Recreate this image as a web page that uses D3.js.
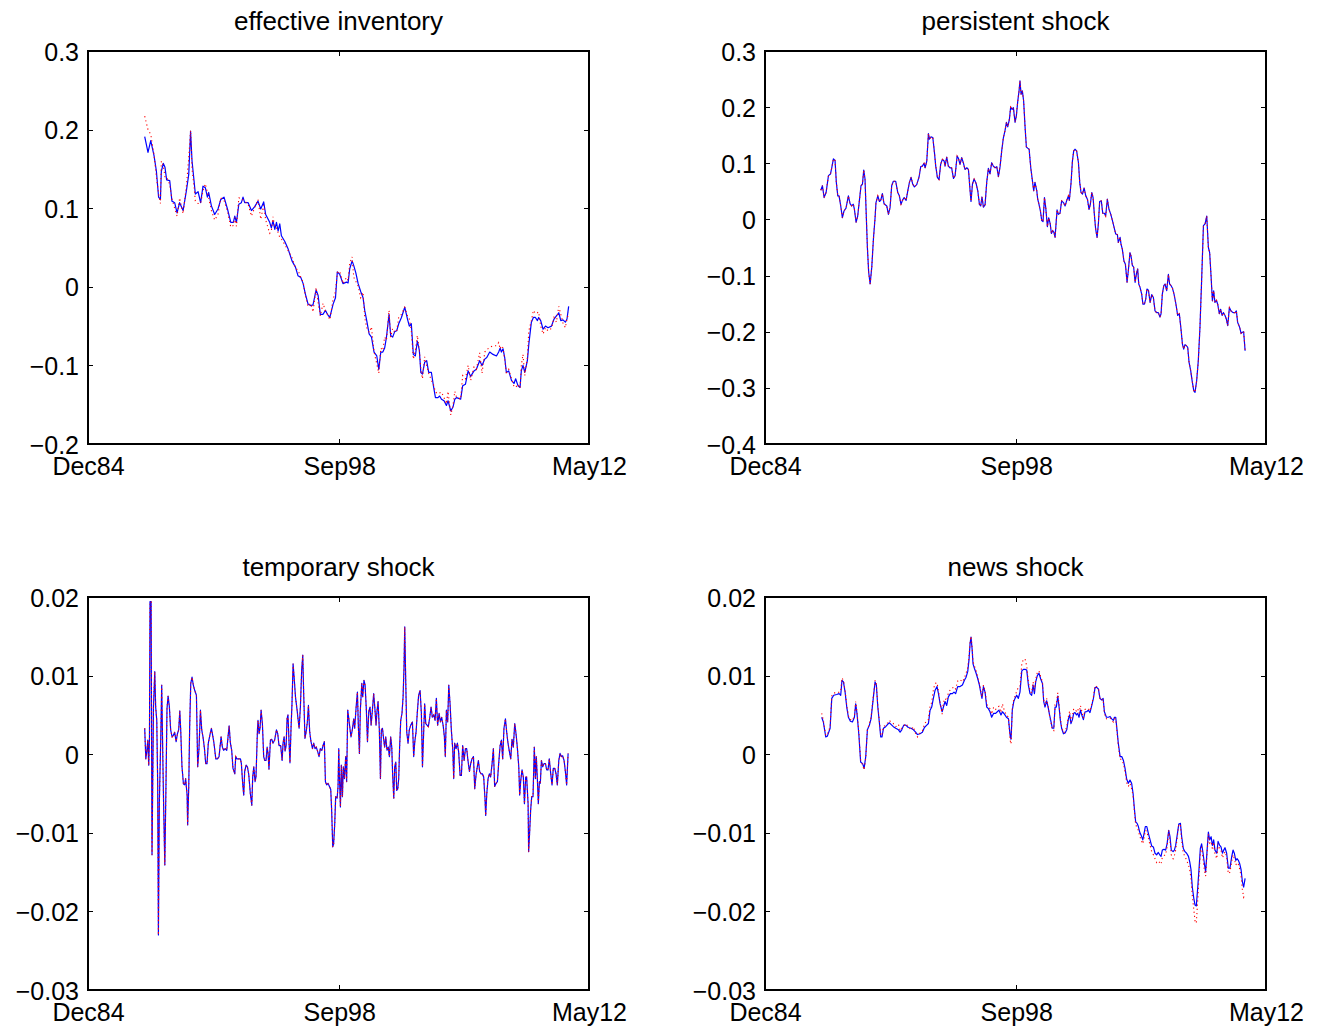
<!DOCTYPE html>
<html><head><meta charset="utf-8">
<script src="https://cdn.jsdelivr.net/npm/d3@7"></script>
<style>body{margin:0;background:#fff;} svg{display:block;}</style>
</head><body><svg id="c" width="1325" height="1034"></svg>
<script>
// ---------- shared x axis (decimal years) ----------
const xDomain = [1984.9167, 2012.3333];
const xTicks = [1984.9167, 1998.6667, 2012.3333];
const xTickLabels = ["Dec84", "Sep98", "May12"];

// ---------- effective inventory ----------
const effYDomain = [-0.2, 0.3];
const effYTicks = [-0.2, -0.1, 0, 0.1, 0.2, 0.3];
const effYLabels = ["\u22120.2", "\u22120.1", "0", "0.1", "0.2", "0.3"];
const effT = [
1988.02,1988.20,1988.35,1988.53,1988.66,1988.78,1988.88,1988.93,1989.04,1989.13,
1989.22,1989.39,1989.51,1989.66,1989.79,1989.93,1990.12,1990.30,1990.43,1990.53,
1990.61,1990.72,1990.79,1990.94,1991.08,1991.21,1991.34,1991.45,1991.52,1991.67,
1991.85,1992.03,1992.18,1992.36,1992.55,1992.73,1992.87,1992.95,1993.04,1993.17,
1993.31,1993.40,1993.49,1993.68,1993.86,1994.04,1994.22,1994.37,1994.53,1994.64,
1994.86,1994.95,1995.04,1995.14,1995.23,1995.32,1995.41,1995.50,1995.68,1995.87,
1996.08,1996.27,1996.41,1996.56,1996.69,1996.81,1996.96,1997.11,1997.23,1997.40,
1997.51,1997.63,1997.78,1997.91,1998.02,1998.15,1998.33,1998.46,1998.56,1998.69,
1998.87,1999.06,1999.15,1999.24,1999.37,1999.46,1999.57,1999.70,1999.84,1999.97,
2000.06,2000.17,2000.30,2000.43,2000.57,2000.72,2000.83,2000.94,2001.05,2001.15,
2001.25,2001.39,2001.48,2001.59,2001.70,2001.81,2001.92,2002.07,2002.25,2002.40,
2002.50,2002.61,2002.72,2002.83,2002.94,2003.05,2003.13,2003.22,2003.34,2003.45,
2003.56,2003.71,2003.82,2003.93,2004.07,2004.16,2004.26,2004.40,2004.53,2004.62,
2004.77,2004.89,2004.99,2005.08,2005.20,2005.31,2005.42,2005.57,2005.72,2005.86,
2006.04,2006.17,2006.35,2006.48,2006.63,2006.74,2006.90,2007.08,2007.27,2007.39,
2007.47,2007.54,2007.63,2007.72,2007.81,2007.94,2008.09,2008.23,2008.32,2008.45,
2008.56,2008.63,2008.72,2008.82,2008.96,2009.04,2009.18,2009.29,2009.40,2009.51,
2009.58,2009.69,2009.82,2009.95,2010.09,2010.28,2010.42,2010.55,2010.68,2010.79,
2010.91,2011.04,2011.13,2011.22];
const effBlue = [
0.191,0.171,0.186,0.167,0.147,0.114,0.111,0.147,0.157,0.152,
0.136,0.135,0.109,0.107,0.094,0.107,0.097,0.122,0.143,0.198,
0.160,0.135,0.118,0.121,0.107,0.128,0.126,0.114,0.120,0.103,
0.092,0.099,0.111,0.114,0.099,0.082,0.082,0.090,0.082,0.105,
0.107,0.114,0.107,0.107,0.097,0.102,0.109,0.099,0.108,0.092,
0.082,0.075,0.084,0.073,0.082,0.071,0.080,0.065,0.058,0.048,
0.033,0.025,0.014,0.012,0.004,-0.009,-0.022,-0.024,-0.023,-0.004,
-0.011,-0.035,-0.035,-0.030,-0.035,-0.039,-0.022,-0.014,0.019,0.016,
0.004,0.006,0.005,0.023,0.033,0.027,0.018,0.004,-0.006,-0.014,
-0.030,-0.043,-0.060,-0.064,-0.083,-0.088,-0.105,-0.083,-0.083,-0.078,
-0.064,-0.035,-0.062,-0.064,-0.057,-0.056,-0.047,-0.039,-0.026,-0.041,
-0.050,-0.047,-0.086,-0.088,-0.069,-0.081,-0.109,-0.111,-0.096,-0.094,
-0.109,-0.109,-0.126,-0.141,-0.141,-0.139,-0.143,-0.145,-0.151,-0.145,
-0.158,-0.153,-0.143,-0.141,-0.142,-0.143,-0.126,-0.124,-0.107,-0.114,
-0.107,-0.105,-0.094,-0.100,-0.092,-0.090,-0.083,-0.086,-0.088,-0.083,
-0.078,-0.083,-0.079,-0.090,-0.109,-0.107,-0.119,-0.123,-0.117,-0.126,
-0.128,-0.107,-0.100,-0.109,-0.094,-0.073,-0.045,-0.039,-0.039,-0.043,
-0.039,-0.043,-0.054,-0.050,-0.052,-0.050,-0.041,-0.037,-0.033,-0.043,
-0.042,-0.045,-0.041,-0.025];
const effRed = [
0.217,0.200,0.194,0.168,0.140,0.118,0.106,0.160,0.154,0.140,
0.140,0.130,0.112,0.100,0.090,0.113,0.093,0.128,0.164,0.199,
0.150,0.128,0.109,0.106,0.106,0.122,0.131,0.120,0.113,0.097,
0.085,0.092,0.113,0.110,0.096,0.076,0.078,0.088,0.077,0.113,
0.113,0.110,0.109,0.105,0.090,0.101,0.111,0.086,0.104,0.085,
0.068,0.071,0.089,0.076,0.075,0.069,0.063,0.061,0.054,0.046,
0.037,0.024,0.021,0.012,0.006,-0.011,-0.025,-0.021,-0.032,-0.001,
-0.020,-0.037,-0.021,-0.031,-0.035,-0.042,-0.016,-0.006,0.018,0.020,
0.004,0.012,0.008,0.030,0.038,0.012,0.007,0.001,-0.014,-0.007,
-0.039,-0.052,-0.058,-0.051,-0.083,-0.098,-0.110,-0.078,-0.081,-0.064,
-0.068,-0.030,-0.064,-0.053,-0.058,-0.056,-0.039,-0.035,-0.026,-0.037,
-0.041,-0.056,-0.092,-0.081,-0.062,-0.081,-0.105,-0.117,-0.089,-0.100,
-0.110,-0.119,-0.124,-0.134,-0.136,-0.135,-0.134,-0.141,-0.149,-0.133,
-0.163,-0.151,-0.133,-0.140,-0.141,-0.143,-0.113,-0.117,-0.100,-0.119,
-0.102,-0.105,-0.084,-0.110,-0.083,-0.080,-0.077,-0.075,-0.075,-0.071,
-0.079,-0.075,-0.078,-0.092,-0.109,-0.105,-0.117,-0.127,-0.128,-0.124,
-0.129,-0.100,-0.086,-0.113,-0.090,-0.056,-0.043,-0.030,-0.034,-0.033,
-0.032,-0.050,-0.060,-0.052,-0.056,-0.053,-0.039,-0.045,-0.025,-0.035,
-0.046,-0.052,-0.041,-0.033];

// ---------- persistent shock ----------
const persYDomain = [-0.4, 0.3];
const persYTicks = [-0.4, -0.3, -0.2, -0.1, 0, 0.1, 0.2, 0.3];
const persYLabels = ["\u22120.4", "\u22120.3", "\u22120.2", "\u22120.1", "0", "0.1", "0.2", "0.3"];
const persT = [
1987.97,1988.06,1988.15,1988.26,1988.39,1988.50,1988.57,1988.66,1988.75,1988.82,
1988.90,1988.97,1989.06,1989.15,1989.24,1989.35,1989.48,1989.57,1989.66,1989.75,
1989.81,1989.90,1989.99,1990.08,1990.17,1990.25,1990.32,1990.39,1990.45,1990.52,
1990.59,1990.67,1990.76,1990.85,1990.94,1990.99,1991.09,1991.18,1991.25,1991.34,
1991.43,1991.58,1991.67,1991.76,1991.85,1991.94,1992.07,1992.18,1992.27,1992.36,
1992.44,1992.53,1992.64,1992.73,1992.82,1992.91,1993.00,1993.09,1993.22,1993.35,
1993.44,1993.53,1993.62,1993.68,1993.77,1993.86,1993.91,1994.00,1994.10,1994.19,
1994.26,1994.35,1994.44,1994.53,1994.62,1994.72,1994.77,1994.86,1994.95,1995.04,
1995.13,1995.23,1995.32,1995.43,1995.50,1995.59,1995.68,1995.77,1995.86,1995.96,
1996.05,1996.14,1996.19,1996.27,1996.36,1996.47,1996.56,1996.65,1996.72,1996.79,
1996.87,1996.96,1997.05,1997.14,1997.23,1997.32,1997.41,1997.51,1997.60,1997.69,
1997.78,1997.87,1997.96,1998.05,1998.13,1998.20,1998.29,1998.36,1998.44,1998.51,
1998.60,1998.67,1998.75,1998.82,1998.87,1998.93,1999.00,1999.07,1999.15,1999.22,
1999.29,1999.37,1999.46,1999.55,1999.62,1999.69,1999.79,1999.84,1999.91,1999.99,
2000.06,2000.13,2000.21,2000.28,2000.37,2000.44,2000.52,2000.59,2000.66,2000.73,
2000.79,2000.90,2000.97,2001.06,2001.15,2001.25,2001.34,2001.43,2001.52,2001.57,
2001.66,2001.74,2001.81,2001.88,2001.97,2002.07,2002.14,2002.21,2002.29,2002.38,
2002.47,2002.56,2002.65,2002.72,2002.80,2002.87,2002.94,2003.01,2003.09,2003.16,
2003.23,2003.32,2003.40,2003.49,2003.56,2003.65,2003.74,2003.84,2003.93,2004.02,
2004.11,2004.20,2004.25,2004.35,2004.40,2004.47,2004.56,2004.64,2004.73,2004.80,
2004.89,2004.95,2005.02,2005.09,2005.17,2005.24,2005.31,2005.37,2005.44,2005.53,
2005.60,2005.68,2005.75,2005.82,2005.90,2005.99,2006.08,2006.17,2006.26,2006.35,
2006.44,2006.53,2006.59,2006.66,2006.74,2006.81,2006.90,2006.99,2007.06,2007.14,
2007.21,2007.30,2007.39,2007.50,2007.59,2007.68,2007.76,2007.83,2007.90,2007.98,
2008.05,2008.12,2008.21,2008.29,2008.38,2008.45,2008.54,2008.63,2008.72,2008.81,
2008.91,2009.00,2009.09,2009.18,2009.25,2009.33,2009.40,2009.47,2009.54,2009.62,
2009.69,2009.78,2009.85,2009.93,2010.00,2010.09,2010.16,2010.24,2010.33,2010.42,
2010.53,2010.64,2010.71,2010.78,2010.89,2010.97,2011.04,2011.11,2011.19];
const persBlue = [
0.052,0.060,0.039,0.048,0.078,0.081,0.092,0.108,0.105,0.066,
0.042,0.042,0.024,0.003,0.015,0.020,0.042,0.028,0.024,0.027,
0.018,-0.005,0.006,0.033,0.060,0.063,0.088,0.072,0.015,-0.050,
-0.094,-0.115,-0.085,-0.035,0.003,0.030,0.042,0.032,0.034,0.046,
0.028,0.024,0.009,0.021,0.060,0.068,0.068,0.048,0.042,0.027,
0.034,0.039,0.034,0.051,0.066,0.075,0.063,0.058,0.062,0.076,
0.094,0.095,0.100,0.092,0.104,0.153,0.143,0.147,0.146,0.119,
0.095,0.075,0.071,0.098,0.107,0.104,0.095,0.111,0.095,0.092,
0.092,0.073,0.078,0.113,0.109,0.098,0.110,0.101,0.089,0.092,
0.089,0.051,0.032,0.063,0.072,0.064,0.051,0.027,0.024,0.040,
0.022,0.026,0.066,0.091,0.081,0.101,0.095,0.092,0.094,0.076,
0.094,0.122,0.145,0.158,0.173,0.165,0.178,0.200,0.196,0.199,
0.173,0.184,0.211,0.229,0.247,0.223,0.229,0.211,0.164,0.129,
0.127,0.125,0.092,0.069,0.051,0.066,0.051,0.036,0.027,0.015,
-0.002,-0.004,0.039,0.021,-0.013,0.003,-0.007,-0.025,-0.020,-0.023,
-0.032,0.017,0.009,0.011,0.033,0.030,0.024,0.034,0.042,0.034,
0.063,0.104,0.122,0.125,0.122,0.101,0.066,0.048,0.045,0.056,
0.042,0.036,0.018,0.027,0.048,0.039,0.009,-0.017,-0.032,-0.008,
0.032,0.033,0.011,0.011,0.006,0.036,0.018,0.009,-0.002,-0.014,
-0.026,-0.027,-0.041,-0.032,-0.044,-0.053,-0.074,-0.080,-0.112,-0.091,
-0.059,-0.066,-0.082,-0.085,-0.112,-0.097,-0.088,-0.115,-0.121,-0.133,
-0.151,-0.151,-0.142,-0.124,-0.126,-0.148,-0.134,-0.139,-0.163,-0.166,
-0.166,-0.174,-0.168,-0.133,-0.118,-0.115,-0.127,-0.098,-0.115,-0.118,
-0.122,-0.133,-0.148,-0.171,-0.168,-0.195,-0.222,-0.231,-0.223,-0.225,
-0.228,-0.254,-0.269,-0.287,-0.305,-0.308,-0.287,-0.251,-0.192,-0.109,
-0.011,-0.008,0.006,-0.050,-0.059,-0.103,-0.145,-0.127,-0.148,-0.144,
-0.151,-0.168,-0.160,-0.171,-0.166,-0.171,-0.177,-0.189,-0.157,-0.163,
-0.166,-0.166,-0.163,-0.183,-0.192,-0.203,-0.201,-0.200,-0.234];
// the red dotted series lies on top of the blue one in this panel
const persRed = persBlue;

// ---------- temporary shock ----------
const tempYDomain = [-0.03, 0.02];
const tempYTicks = [-0.03, -0.02, -0.01, 0, 0.01, 0.02];
const tempYLabels = ["\u22120.03", "\u22120.02", "\u22120.01", "0", "0.01", "0.02"];
const tempT = [
1988.02,1988.08,1988.13,1988.19,1988.24,1988.28,1988.31,1988.37,1988.42,1988.50,
1988.57,1988.62,1988.68,1988.73,1988.77,1988.82,1988.90,1988.95,1989.01,1989.06,
1989.12,1989.19,1989.24,1989.30,1989.37,1989.44,1989.52,1989.59,1989.66,1989.74,
1989.81,1989.88,1989.94,1989.99,1990.06,1990.14,1990.21,1990.26,1990.34,1990.37,
1990.43,1990.48,1990.54,1990.61,1990.68,1990.76,1990.85,1990.92,1990.99,1991.07,
1991.14,1991.21,1991.29,1991.36,1991.43,1991.50,1991.60,1991.67,1991.74,1991.81,
1991.91,1992.00,1992.09,1992.14,1992.20,1992.27,1992.34,1992.42,1992.51,1992.58,
1992.64,1992.71,1992.78,1992.85,1992.95,1993.00,1993.07,1993.16,1993.26,1993.31,
1993.38,1993.44,1993.49,1993.57,1993.64,1993.71,1993.80,1993.88,1993.93,1993.99,
1994.06,1994.11,1994.19,1994.22,1994.28,1994.33,1994.39,1994.46,1994.53,1994.59,
1994.66,1994.72,1994.77,1994.82,1994.90,1994.97,1995.04,1995.13,1995.23,1995.30,
1995.37,1995.46,1995.54,1995.59,1995.65,1995.70,1995.76,1995.81,1995.86,1995.92,
1995.97,1996.03,1996.08,1996.14,1996.19,1996.27,1996.36,1996.41,1996.47,1996.54,
1996.61,1996.67,1996.72,1996.79,1996.87,1996.92,1996.98,1997.05,1997.12,1997.20,
1997.27,1997.34,1997.41,1997.49,1997.56,1997.63,1997.71,1997.78,1997.85,1997.91,
1997.98,1998.05,1998.13,1998.20,1998.25,1998.31,1998.36,1998.42,1998.47,1998.55,
1998.60,1998.64,1998.67,1998.73,1998.78,1998.84,1998.89,1998.95,1999.02,1999.07,
1999.13,1999.18,1999.26,1999.31,1999.38,1999.46,1999.51,1999.59,1999.66,1999.71,
1999.77,1999.82,1999.90,1999.95,2000.02,2000.08,2000.15,2000.21,2000.28,2000.35,
2000.41,2000.48,2000.55,2000.61,2000.68,2000.73,2000.79,2000.86,2000.92,2000.97,
2001.03,2001.10,2001.15,2001.21,2001.28,2001.35,2001.41,2001.48,2001.54,2001.59,
2001.65,2001.70,2001.76,2001.81,2001.87,2001.92,2001.97,2002.03,2002.10,2002.16,
2002.21,2002.25,2002.30,2002.36,2002.43,2002.50,2002.58,2002.67,2002.74,2002.80,
2002.87,2002.94,2003.01,2003.09,2003.16,2003.22,2003.29,2003.34,2003.40,2003.47,
2003.54,2003.62,2003.69,2003.76,2003.84,2003.91,2003.98,2004.05,2004.13,2004.20,
2004.27,2004.35,2004.42,2004.47,2004.53,2004.60,2004.66,2004.73,2004.80,2004.88,
2004.93,2004.98,2005.06,2005.13,2005.20,2005.28,2005.35,2005.42,2005.50,2005.57,
2005.64,2005.71,2005.79,2005.86,2005.93,2006.01,2006.08,2006.15,2006.22,2006.28,
2006.35,2006.43,2006.50,2006.57,2006.64,2006.68,2006.74,2006.81,2006.88,2006.95,
2007.03,2007.10,2007.17,2007.25,2007.32,2007.39,2007.47,2007.54,2007.61,2007.68,
2007.76,2007.83,2007.90,2007.98,2008.05,2008.12,2008.19,2008.27,2008.34,2008.41,
2008.49,2008.54,2008.60,2008.67,2008.74,2008.80,2008.87,2008.92,2009.00,2009.03,
2009.09,2009.14,2009.20,2009.27,2009.34,2009.40,2009.45,2009.51,2009.56,2009.62,
2009.67,2009.73,2009.80,2009.87,2009.95,2010.02,2010.09,2010.16,2010.24,2010.31,
2010.38,2010.46,2010.53,2010.60,2010.68,2010.75,2010.82,2010.89,2010.97,2011.04,
2011.11,2011.19];
const tempBlue = [
0.0033,-0.0006,0.0003,0.0018,-0.0014,0.0018,0.0194,0.0194,-0.0128,0.0060,
0.0105,0.0060,0.0043,-0.0037,-0.0230,-0.0063,0.0022,0.0088,-0.0003,-0.0071,
-0.0141,-0.0029,0.0058,0.0074,0.0060,0.0031,0.0022,0.0024,0.0028,0.0016,
0.0026,0.0031,0.0055,0.0031,-0.0016,-0.0038,-0.0039,-0.0031,-0.0052,-0.0090,
-0.0041,0.0035,0.0090,0.0098,0.0088,0.0081,0.0075,-0.0016,0.0007,0.0056,
0.0031,0.0022,0.0007,-0.0012,-0.0012,0.0014,0.0026,0.0033,0.0024,0.0014,
-0.0006,-0.0006,-0.0003,0.0009,0.0022,0.0009,0.0005,0.0007,0.0005,0.0022,
0.0036,0.0014,0.0005,-0.0018,-0.0025,-0.0003,-0.0006,-0.0006,-0.0006,-0.0012,
-0.0037,-0.0052,-0.0022,-0.0014,-0.0016,-0.0025,-0.0050,-0.0065,-0.0029,-0.0016,
-0.0035,-0.0029,0.0031,0.0043,0.0026,0.0033,0.0056,0.0039,-0.0003,-0.0008,
-0.0008,0.0009,0.0001,-0.0019,0.0018,0.0019,0.0014,0.0018,0.0031,0.0026,
0.0011,0.0011,-0.0008,0.0014,0.0022,0.0004,0.0011,0.0045,0.0050,0.0014,
-0.0011,0.0035,0.0064,0.0115,0.0100,0.0073,0.0056,0.0045,0.0033,0.0060,
0.0107,0.0126,0.0077,0.0020,0.0031,0.0041,0.0062,0.0028,0.0016,0.0007,
0.0014,0.0007,0.0009,0.0003,-0.0003,0.0007,0.0005,0.0011,0.0016,-0.0035,
-0.0039,-0.0037,-0.0041,-0.0045,-0.0071,-0.0118,-0.0114,-0.0088,-0.0054,-0.0056,
-0.0041,0.0007,-0.0025,-0.0067,-0.0014,-0.0054,-0.0016,-0.0031,-0.0003,-0.0035,
0.0056,0.0047,0.0031,0.0022,0.0031,0.0045,0.0033,0.0060,0.0079,0.0037,
0.0001,0.0056,0.0090,0.0073,0.0094,0.0088,0.0056,0.0016,0.0054,0.0060,
0.0037,0.0056,0.0077,0.0060,0.0037,0.0054,0.0067,0.0031,-0.0031,0.0031,
0.0033,0.0018,0.0009,0.0022,0.0005,0.0009,-0.0003,0.0022,0.0009,-0.0027,
-0.0056,-0.0016,-0.0010,-0.0046,-0.0044,-0.0031,0.0009,0.0043,0.0052,0.0073,
0.0111,0.0162,0.0098,0.0028,0.0014,0.0031,0.0037,0.0041,-0.0003,0.0016,
0.0028,0.0054,0.0075,0.0081,0.0052,-0.0016,0.0031,0.0064,0.0039,0.0037,
0.0035,0.0047,0.0060,0.0047,0.0050,0.0043,0.0071,0.0037,0.0052,0.0041,
0.0047,0.0037,0.0022,-0.0003,0.0056,0.0041,0.0088,0.0064,0.0031,0.0005,
-0.0031,0.0014,0.0007,0.0014,0.0003,-0.0027,-0.0027,0.0011,-0.0008,0.0007,
0.0007,-0.0008,-0.0022,-0.0012,-0.0006,-0.0003,-0.0044,-0.0027,-0.0016,-0.0008,
-0.0022,-0.0025,-0.0025,-0.0029,-0.0056,-0.0078,-0.0050,-0.0031,-0.0025,-0.0029,
-0.0012,0.0007,-0.0041,-0.0037,-0.0035,-0.0012,0.0011,0.0018,-0.0006,0.0033,
0.0045,0.0028,0.0014,0.0003,-0.0006,0.0019,0.0009,0.0039,0.0026,0.0009,
-0.0016,-0.0052,-0.0033,-0.0020,-0.0029,-0.0063,-0.0029,-0.0029,-0.0063,-0.0124,
-0.0097,-0.0071,-0.0054,-0.0054,0.0009,-0.0031,-0.0003,-0.0033,-0.0063,-0.0035,
-0.0037,-0.0008,-0.0016,-0.0012,-0.0012,-0.0020,-0.0020,-0.0006,-0.0025,-0.0039,
-0.0018,-0.0018,-0.0025,-0.0039,-0.0008,0.0001,-0.0003,-0.0002,-0.0008,-0.0022,
-0.0039,0.0001];
// the red dotted series lies on top of the blue one in this panel
const tempRed = tempBlue;

// ---------- news shock ----------
const newsYDomain = [-0.03, 0.02];
const newsYTicks = [-0.03, -0.02, -0.01, 0, 0.01, 0.02];
const newsYLabels = ["\u22120.03", "\u22120.02", "\u22120.01", "0", "0.01", "0.02"];
const newsT = [
1988.02,1988.11,1988.24,1988.33,1988.48,1988.57,1988.68,1988.84,1988.97,1989.06,
1989.13,1989.21,1989.30,1989.39,1989.48,1989.59,1989.70,1989.81,1989.88,1989.95,
1990.05,1990.15,1990.26,1990.34,1990.43,1990.52,1990.63,1990.72,1990.85,1990.94,
1991.01,1991.09,1991.18,1991.25,1991.32,1991.40,1991.52,1991.63,1991.72,1991.81,
1991.94,1992.07,1992.22,1992.31,1992.40,1992.51,1992.62,1992.76,1992.91,1993.04,
1993.16,1993.26,1993.40,1993.53,1993.64,1993.77,1993.86,1993.95,1994.04,1994.13,
1994.22,1994.33,1994.41,1994.50,1994.61,1994.68,1994.77,1994.86,1994.95,1995.06,
1995.17,1995.26,1995.35,1995.46,1995.59,1995.72,1995.83,1995.92,1996.01,1996.08,
1996.14,1996.19,1996.25,1996.30,1996.38,1996.47,1996.56,1996.65,1996.72,1996.79,
1996.87,1996.96,1997.05,1997.14,1997.23,1997.32,1997.43,1997.54,1997.63,1997.72,
1997.83,1997.91,1998.02,1998.13,1998.24,1998.33,1998.38,1998.45,1998.53,1998.60,
1998.69,1998.78,1998.87,1998.97,1999.06,1999.15,1999.24,1999.33,1999.42,1999.51,
1999.59,1999.66,1999.73,1999.82,1999.91,2000.00,2000.10,2000.17,2000.24,2000.33,
2000.41,2000.48,2000.57,2000.64,2000.72,2000.79,2000.86,2000.94,2001.01,2001.08,
2001.15,2001.25,2001.34,2001.43,2001.52,2001.59,2001.66,2001.74,2001.81,2001.88,
2001.96,2002.03,2002.10,2002.18,2002.25,2002.34,2002.43,2002.52,2002.61,2002.70,
2002.80,2002.89,2002.98,2003.07,2003.16,2003.25,2003.34,2003.42,2003.49,2003.60,
2003.71,2003.80,2003.89,2003.98,2004.04,2004.11,2004.18,2004.25,2004.35,2004.44,
2004.53,2004.62,2004.71,2004.80,2004.89,2004.98,2005.06,2005.13,2005.20,2005.28,
2005.35,2005.42,2005.50,2005.59,2005.66,2005.73,2005.81,2005.90,2005.99,2006.08,
2006.17,2006.26,2006.35,2006.44,2006.52,2006.59,2006.66,2006.75,2006.84,2006.92,
2007.01,2007.08,2007.15,2007.25,2007.32,2007.39,2007.48,2007.56,2007.65,2007.72,
2007.81,2007.90,2007.99,2008.09,2008.16,2008.23,2008.30,2008.38,2008.45,2008.52,
2008.60,2008.67,2008.74,2008.81,2008.89,2008.96,2009.03,2009.11,2009.18,2009.25,
2009.33,2009.40,2009.47,2009.54,2009.64,2009.71,2009.80,2009.87,2009.95,2010.02,
2010.09,2010.18,2010.27,2010.36,2010.46,2010.53,2010.60,2010.68,2010.75,2010.82,
2010.89,2010.97,2011.04,2011.11,2011.19];
const newsBlue = [
0.0047,0.0041,0.0022,0.0023,0.0033,0.0071,0.0075,0.0076,0.0077,0.0075,
0.0094,0.0092,0.0079,0.0060,0.0047,0.0042,0.0041,0.0047,0.0064,0.0052,
0.0026,-0.0010,-0.0012,-0.0018,-0.0003,0.0031,0.0037,0.0045,0.0073,0.0092,
0.0088,0.0060,0.0039,0.0022,0.0022,0.0033,0.0035,0.0038,0.0040,0.0038,
0.0035,0.0033,0.0031,0.0028,0.0031,0.0037,0.0037,0.0034,0.0033,0.0031,
0.0028,0.0025,0.0026,0.0028,0.0034,0.0037,0.0039,0.0056,0.0060,0.0071,
0.0081,0.0086,0.0077,0.0064,0.0054,0.0060,0.0067,0.0062,0.0073,0.0077,
0.0077,0.0079,0.0077,0.0086,0.0086,0.0088,0.0094,0.0098,0.0105,0.0120,
0.0141,0.0149,0.0134,0.0115,0.0109,0.0103,0.0096,0.0088,0.0079,0.0071,
0.0086,0.0079,0.0060,0.0058,0.0054,0.0047,0.0052,0.0052,0.0054,0.0056,
0.0050,0.0054,0.0051,0.0047,0.0045,0.0024,0.0019,0.0056,0.0067,0.0071,
0.0075,0.0071,0.0079,0.0106,0.0108,0.0108,0.0107,0.0088,0.0077,0.0075,
0.0088,0.0077,0.0092,0.0100,0.0103,0.0096,0.0090,0.0067,0.0060,0.0068,
0.0060,0.0051,0.0041,0.0033,0.0033,0.0060,0.0060,0.0074,0.0060,0.0043,
0.0033,0.0026,0.0027,0.0031,0.0045,0.0050,0.0039,0.0044,0.0052,0.0053,
0.0050,0.0052,0.0047,0.0056,0.0050,0.0044,0.0054,0.0054,0.0056,0.0053,
0.0062,0.0071,0.0085,0.0085,0.0083,0.0071,0.0069,0.0071,0.0054,0.0047,
0.0047,0.0048,0.0045,0.0043,0.0047,0.0047,0.0031,0.0014,-0.0003,-0.0003,
-0.0008,-0.0018,-0.0032,-0.0037,-0.0033,-0.0037,-0.0050,-0.0069,-0.0086,-0.0088,
-0.0092,-0.0099,-0.0103,-0.0109,-0.0101,-0.0092,-0.0092,-0.0101,-0.0109,-0.0117,
-0.0118,-0.0126,-0.0128,-0.0125,-0.0128,-0.0130,-0.0122,-0.0121,-0.0122,-0.0114,
-0.0097,-0.0105,-0.0122,-0.0124,-0.0122,-0.0116,-0.0102,-0.0089,-0.0088,-0.0105,
-0.0120,-0.0124,-0.0126,-0.0130,-0.0137,-0.0147,-0.0169,-0.0183,-0.0192,-0.0193,
-0.0169,-0.0145,-0.0120,-0.0114,-0.0126,-0.0139,-0.0150,-0.0122,-0.0099,-0.0109,
-0.0105,-0.0116,-0.0109,-0.0122,-0.0126,-0.0111,-0.0116,-0.0118,-0.0126,-0.0122,
-0.0119,-0.0126,-0.0145,-0.0145,-0.0130,-0.0122,-0.0126,-0.0135,-0.0133,-0.0135,
-0.0139,-0.0147,-0.0162,-0.0169,-0.0158];
const newsRed = [
0.0052,0.0043,0.0024,0.0025,0.0035,0.0074,0.0078,0.0078,0.0079,0.0080,
0.0097,0.0094,0.0081,0.0062,0.0049,0.0044,0.0043,0.0049,0.0067,0.0054,
0.0028,-0.0008,-0.0014,-0.0020,-0.0005,0.0031,0.0039,0.0047,0.0075,0.0094,
0.0090,0.0062,0.0041,0.0024,0.0024,0.0035,0.0037,0.0040,0.0043,0.0041,
0.0039,0.0035,0.0038,0.0030,0.0033,0.0036,0.0039,0.0035,0.0031,0.0035,
0.0026,0.0022,0.0027,0.0030,0.0038,0.0043,0.0044,0.0061,0.0066,0.0082,
0.0090,0.0091,0.0080,0.0066,0.0051,0.0066,0.0071,0.0068,0.0078,0.0082,
0.0084,0.0086,0.0083,0.0093,0.0095,0.0092,0.0097,0.0103,0.0110,0.0124,
0.0143,0.0150,0.0137,0.0118,0.0112,0.0106,0.0098,0.0090,0.0081,0.0073,
0.0088,0.0080,0.0064,0.0060,0.0058,0.0051,0.0060,0.0057,0.0060,0.0061,
0.0053,0.0064,0.0055,0.0050,0.0047,0.0018,0.0013,0.0059,0.0070,0.0074,
0.0080,0.0085,0.0086,0.0115,0.0121,0.0121,0.0112,0.0092,0.0080,0.0078,
0.0092,0.0081,0.0095,0.0104,0.0106,0.0099,0.0092,0.0069,0.0062,0.0071,
0.0061,0.0050,0.0040,0.0031,0.0030,0.0063,0.0064,0.0078,0.0063,0.0045,
0.0035,0.0027,0.0029,0.0035,0.0048,0.0055,0.0041,0.0049,0.0058,0.0056,
0.0055,0.0058,0.0052,0.0062,0.0055,0.0046,0.0057,0.0058,0.0058,0.0055,
0.0064,0.0073,0.0087,0.0086,0.0084,0.0071,0.0068,0.0070,0.0052,0.0045,
0.0046,0.0046,0.0043,0.0041,0.0045,0.0045,0.0029,0.0011,-0.0006,-0.0007,
-0.0012,-0.0022,-0.0036,-0.0041,-0.0037,-0.0044,-0.0053,-0.0072,-0.0090,-0.0093,
-0.0097,-0.0104,-0.0109,-0.0114,-0.0107,-0.0097,-0.0098,-0.0107,-0.0116,-0.0124,
-0.0128,-0.0133,-0.0138,-0.0136,-0.0138,-0.0140,-0.0131,-0.0129,-0.0128,-0.0118,
-0.0097,-0.0110,-0.0128,-0.0133,-0.0129,-0.0122,-0.0105,-0.0089,-0.0090,-0.0110,
-0.0126,-0.0130,-0.0135,-0.0141,-0.0147,-0.0158,-0.0180,-0.0197,-0.0212,-0.0215,
-0.0185,-0.0155,-0.0125,-0.0118,-0.0133,-0.0148,-0.0155,-0.0126,-0.0102,-0.0113,
-0.0111,-0.0122,-0.0112,-0.0127,-0.0133,-0.0114,-0.0121,-0.0122,-0.0132,-0.0128,
-0.0124,-0.0131,-0.0152,-0.0150,-0.0136,-0.0128,-0.0133,-0.0141,-0.0138,-0.0140,
-0.0146,-0.0155,-0.0172,-0.0182,-0.0178];

// ---------- layout ----------
const PW = 501, PH = 393;
const FONT = "'Liberation Sans', Arial, Helvetica, sans-serif";
const panels = [
  {title: "effective inventory", t: effT, blue: effBlue, red: effRed, yDomain: effYDomain, yTicks: effYTicks, yLabels: effYLabels, left: 88, top: 51},
  {title: "persistent shock", t: persT, blue: persBlue, red: persRed, yDomain: persYDomain, yTicks: persYTicks, yLabels: persYLabels, left: 765, top: 51},
  {title: "temporary shock", t: tempT, blue: tempBlue, red: tempRed, yDomain: tempYDomain, yTicks: tempYTicks, yLabels: tempYLabels, left: 88, top: 597},
  {title: "news shock", t: newsT, blue: newsBlue, red: newsRed, yDomain: newsYDomain, yTicks: newsYTicks, yLabels: newsYLabels, left: 765, top: 597}
];

const svg = d3.select("#c");
svg.append("rect").attr("width", 1325).attr("height", 1034).attr("fill", "#fff");

panels.forEach(p => {
  const g = svg.append("g").attr("transform", `translate(${p.left},${p.top})`);
  const x = d3.scaleLinear().domain(xDomain).range([0, PW]);
  const y = d3.scaleLinear().domain(p.yDomain).range([PH, 0]);

  const line = d3.line().x((d, i) => x(p.t[i])).y(d => y(d));
  g.append("path").datum(p.blue).attr("d", line)
    .attr("fill", "none").attr("stroke", "#0000ff").attr("stroke-width", 1.2)
    .attr("stroke-linejoin", "round");
  g.append("path").datum(p.red).attr("d", line)
    .attr("fill", "none").attr("stroke", "#ff0000").attr("stroke-width", 1.1)
    .attr("stroke-dasharray", "1.2,3");

  const style = sel => {
    sel.select(".domain").remove();
    sel.selectAll(".tick line").attr("stroke", "#000").attr("stroke-width", 1).attr("shape-rendering", "crispEdges");
    sel.selectAll("text").attr("font-family", FONT).attr("font-size", 25).attr("fill", "#000");
  };

  g.append("g")
    .call(d3.axisLeft(y).tickValues(p.yTicks).tickSize(-5).tickPadding(9).tickFormat((d, i) => p.yLabels[i]))
    .call(style)
    .selectAll("text").attr("dy", "0.36em");
  g.append("g").attr("transform", `translate(${PW},0)`)
    .call(d3.axisRight(y).tickValues(p.yTicks).tickSize(-5).tickFormat(""))
    .call(style);
  g.append("g")
    .call(d3.axisTop(x).tickValues(xTicks).tickSize(-5).tickFormat(""))
    .call(style);
  g.append("g").attr("transform", `translate(0,${PH})`)
    .call(d3.axisBottom(x).tickValues(xTicks).tickSize(-5).tickPadding(13).tickFormat((d, i) => xTickLabels[i]))
    .call(style);

  g.append("rect").attr("x", 0).attr("y", 0).attr("width", PW).attr("height", PH)
    .attr("fill", "none").attr("stroke", "#000").attr("stroke-width", 1.2).attr("shape-rendering", "crispEdges");

  g.append("text").attr("x", PW / 2).attr("y", -21).attr("text-anchor", "middle")
    .attr("font-family", FONT).attr("font-size", 26).attr("fill", "#000").text(p.title);
});
</script>
</body></html>
